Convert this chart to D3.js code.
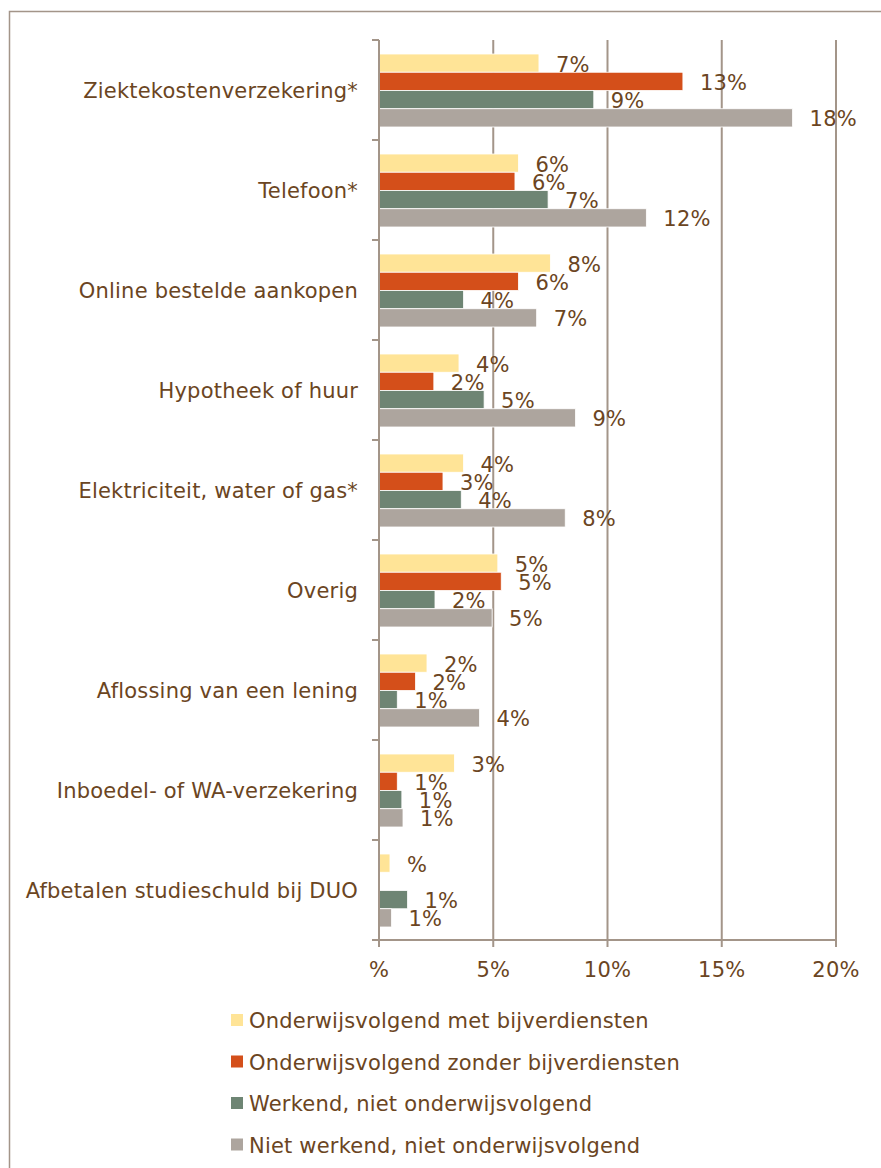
<!DOCTYPE html>
<html><head><meta charset="utf-8">
<script src="https://cdn.jsdelivr.net/npm/d3@7"></script>
<style>body{margin:0;background:#fff}svg{display:block}text{font-family:"DejaVu Sans",Verdana,sans-serif;letter-spacing:0.2px}</style>
</head><body>
<script>
const categories = ["Ziektekostenverzekering*","Telefoon*","Online bestelde aankopen","Hypotheek of huur","Elektriciteit, water of gas*","Overig","Aflossing van een lening","Inboedel- of WA-verzekering","Afbetalen studieschuld bij DUO"];
const seriesNames = ["Onderwijsvolgend met bijverdiensten","Onderwijsvolgend zonder bijverdiensten","Werkend, niet onderwijsvolgend","Niet werkend, niet onderwijsvolgend"];
const metBijverdiensten   = [7.0, 6.1, 7.5, 3.5, 3.7, 5.2, 2.1, 3.3, 0.48];
const zonderBijverdiensten= [13.3, 5.95, 6.1, 2.4, 2.8, 5.35, 1.6, 0.8, null];
const werkend             = [9.4, 7.4, 3.7, 4.6, 3.6, 2.45, 0.8, 1.0, 1.25];
const nietWerkend         = [18.1, 11.7, 6.9, 8.6, 8.15, 4.95, 4.4, 1.05, 0.55];
const xTicks = [0, 5, 10, 15, 20];
const colors = ["#FFE497","#D44F1A","#6E8574","#ADA59E"];

const series = [metBijverdiensten, zonderBijverdiensten, werkend, nietWerkend];
const W = 881, H = 1168;
const textColor = "#6B4522", gridColor = "#A39589";
const FS = 21;
const fmt = v => { const r = Math.round(v); return (r === 0 ? "" : r) + "%"; };

const svg = d3.select("body").append("svg").attr("width", W).attr("height", H);
svg.append("path").attr("d", "M9.5,1168 V11.5 H881").attr("fill","none").attr("stroke", gridColor).attr("stroke-width", 1.5);

const x = d3.scaleLinear().domain([0, 20]).range([379, 836]);
const y = d3.scaleBand().domain(categories).range([40, 940]);
const inner = d3.scaleBand().domain(d3.range(4)).range([14, 87]);

// gridlines
svg.append("g").selectAll("line").data(xTicks.slice(1)).join("line")
  .attr("x1", d => x(d)).attr("x2", d => x(d)).attr("y1", 40).attr("y2", 940)
  .attr("stroke", gridColor).attr("stroke-width", 2);

// bars
const groups = svg.append("g").selectAll("g").data(categories).join("g")
  .attr("transform", c => `translate(0,${y(c)})`);
groups.each(function(c, ci) {
  const g = d3.select(this);
  series.forEach((s, si) => {
    const v = s[ci];
    if (v == null) return;
    g.append("rect").attr("x", x(0)).attr("y", inner(si))
      .attr("width", x(v) - x(0)).attr("height", inner.bandwidth())
      .attr("fill", colors[si]).attr("stroke", "#fff").attr("stroke-width", 0.8);
  });
});
groups.each(function(c, ci) {
  const g = d3.select(this);
  series.forEach((s, si) => {
    const v = s[ci];
    if (v == null) return;
    g.append("text").attr("x", x(v) + 17).attr("y", inner(si) + inner.bandwidth()/2 + 1.5)
      .attr("dominant-baseline", "central").attr("font-size", FS).attr("fill", textColor)
      .text(fmt(v));
  });
});

// y axis
const yAxis = svg.append("g").attr("transform", "translate(379,0)");
yAxis.append("line").attr("x1",0).attr("x2",0).attr("y1",40).attr("y2",940).attr("stroke",gridColor).attr("stroke-width",2);
yAxis.selectAll("line.t").data(d3.range(categories.length + 1)).join("line").attr("class","t")
  .attr("x1",-7).attr("x2",0).attr("y1", i => 40 + i * y.step()).attr("y2", i => 40 + i * y.step())
  .attr("stroke",gridColor).attr("stroke-width",2);
svg.append("g").selectAll("text").data(categories).join("text")
  .attr("x", 358).attr("y", c => y(c) + y.bandwidth()/2 + 1)
  .attr("text-anchor","end").attr("dominant-baseline","central")
  .attr("font-size", FS).attr("fill", textColor).text(c => c);

// x axis
const xAxis = svg.append("g").attr("transform", "translate(0,940)");
xAxis.append("line").attr("x1",372).attr("x2",836).attr("y1",0).attr("y2",0).attr("stroke",gridColor).attr("stroke-width",2);
xAxis.selectAll("line.t").data(xTicks).join("line").attr("class","t")
  .attr("x1", d => x(d)).attr("x2", d => x(d)).attr("y1",0).attr("y2",7).attr("stroke",gridColor).attr("stroke-width",2);
xAxis.selectAll("text").data(xTicks).join("text")
  .attr("x", d => x(d)).attr("y", 30).attr("text-anchor","middle").attr("dominant-baseline","central")
  .attr("font-size",FS).attr("fill",textColor).text(d => fmt(d));

// legend
const legend = svg.append("g").selectAll("g").data(seriesNames).join("g")
  .attr("transform", (d, i) => `translate(231,${1020 + i * 41.5})`);
legend.append("rect").attr("x",0).attr("y",-6).attr("width",12).attr("height",12).attr("fill",(d,i)=>colors[i]);
legend.append("text").attr("x",18).attr("y",1).attr("dominant-baseline","central")
  .attr("font-size",FS).attr("fill",textColor).text(d => d);
</script>
</body></html>
